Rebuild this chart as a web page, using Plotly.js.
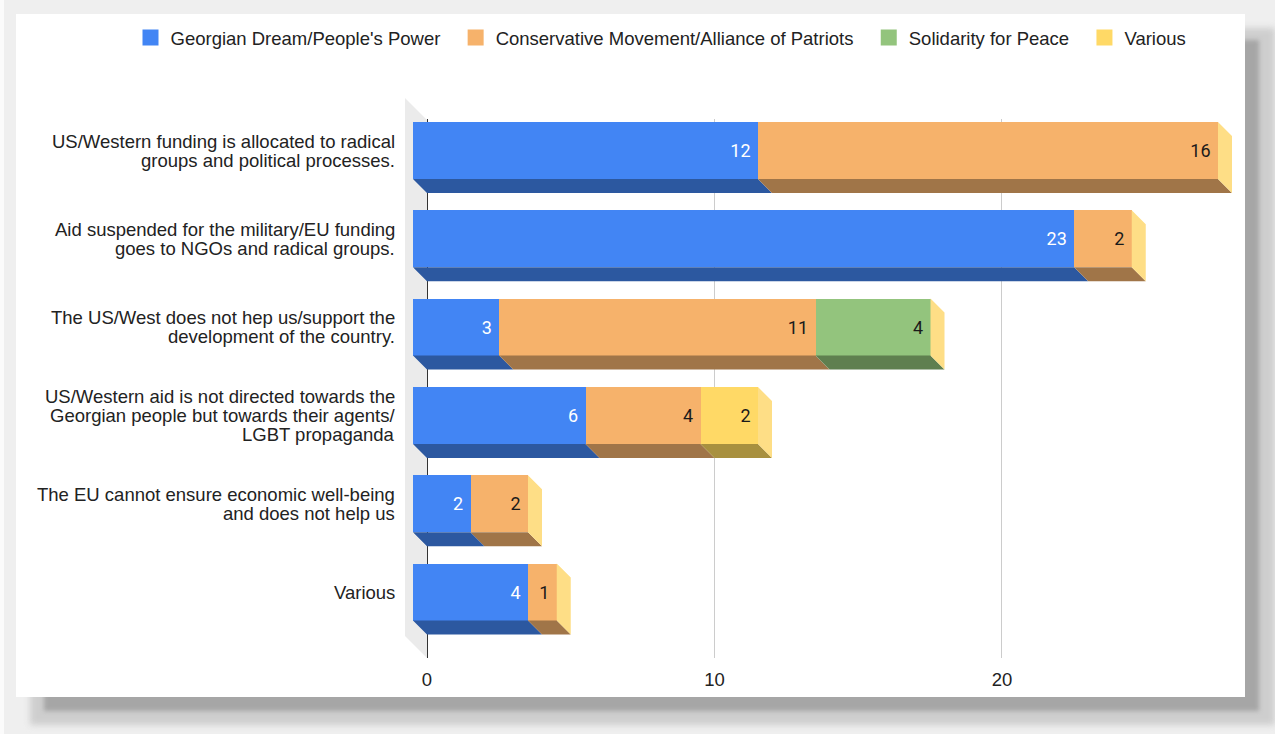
<!DOCTYPE html>
<html>
<head>
<meta charset="utf-8">
<script src="https://cdn.plot.ly/plotly-3.0.1.min.js"></script>
<style>
  html, body { margin: 0; padding: 0; background: #ffffff; overflow: hidden; }
  #wrap { position: relative; width: 1275px; height: 734px; background: #fbfbfb; }
  .sh { position: absolute; }
  #chart { position: absolute; left: 0; top: 0; width: 1275px; height: 734px; }
</style>
</head>
<body>
<div id="wrap">
  <div class="sh" style="left:4px;top:0px;width:1271px;height:734px;background:#efefef;"></div>
  <div class="sh" style="left:30px;top:28px;width:1245px;height:697px;background:#cecece;filter:blur(3px);"></div>
  <div class="sh" style="left:44px;top:40px;width:1215px;height:671px;background:#a6a6a6;filter:blur(2px);"></div>
  <div class="sh" style="left:16px;top:14px;width:1229px;height:683px;background:#ffffff;"></div>
  <div id="chart"></div>
</div>
<script>
// ---- data ----
const categories = [
  "US/Western funding is allocated to radical<br>groups and political processes.",
  "Aid suspended for the military/EU funding<br>goes to NGOs and radical groups.",
  "The US/West does not hep us/support the<br>development of the country.",
  "US/Western aid is not directed towards the<br>Georgian people but towards their agents/<br>LGBT propaganda",
  "The EU cannot ensure economic well-being<br>and does not help us",
  "Various"
];
const seriesNames = ["Georgian Dream/People's Power", "Conservative Movement/Alliance of Patriots", "Solidarity for Peace", "Various"];
const georgianDream = [12, 23, 3, 6, 2, 4];
const conservativeMovement = [16, 2, 11, 4, 2, 1];
const solidarityForPeace = [null, null, 4, null, null, null];
const various = [null, null, null, 2, null, null];
const xTickVals = [0, 10, 20];

// ---- styles ----
const frontColors = ["#4285f4", "#f6b26b", "#93c47d", "#ffd966"];
const bottomColors = ["#2c58a0", "#a07548", "#5f7f4f", "#a8903f"];
const sideColor = "#fede86";
const textColors = ["#ffffff", "#1a1a1a", "#1a1a1a", "#1a1a1a"];

const W = 1275, H = 734;
const px = v => v / W;
const py = v => 1 - v / H;

const X_MAX = 29.5;
const UNIT_PX = 28.75;
const backX0 = 427;
const frontX0 = 413;
const backX1 = backX0 + X_MAX * UNIT_PX, frontX1 = frontX0 + X_MAX * UNIT_PX;
const frontYTop = 106.35, frontYBot = 636.15;
const backYTop = 119, backYBot = 658;
const barFrac = 0.6455;
const LINE_H = 19;

const pxPerUnitY = (frontYBot - frontYTop) / categories.length;
const depthPx = 14;
const dx = depthPx / UNIT_PX;
const dy = depthPx / pxPerUnitY;
const h = barFrac / 2;

const allSeries = [georgianDream, conservativeMovement, solidarityForPeace, various];
const yIdx = categories.map((c, i) => i);

const traces = [];
// dummy trace to register back subplot
traces.push({type: 'scatter', x: [null], y: [null], xaxis: 'x', yaxis: 'y', mode: 'none', showlegend: false, hoverinfo: 'skip'});

// front faces
allSeries.forEach((vals, s) => {
  traces.push({
    type: 'bar', orientation: 'h', name: seriesNames[s], showlegend: false,
    x: vals, y: yIdx, xaxis: 'x2', yaxis: 'y2',
    marker: {color: frontColors[s], line: {width: 0}},
    text: vals.map(v => v == null ? '' : String(v) + '\u00a0'),
    textposition: 'inside', insidetextanchor: 'end', textangle: 0,
    constraintext: 'none',
    insidetextfont: {family: 'Roboto, Arial, sans-serif', size: 18, color: textColors[s]},
    hoverinfo: 'x+name'
  });
});

// bottom faces (3D depth), one polygon per segment
const cum = categories.map(() => 0);
allSeries.forEach((vals, s) => {
  const xs = [], ys = [];
  vals.forEach((v, i) => {
    if (v == null) return;
    const a = cum[i], b = cum[i] + v;
    const yb = i + h;
    xs.push(a, b, b + dx, a + dx, a, null);
    ys.push(yb, yb, yb + dy, yb + dy, yb, null);
    cum[i] = b;
  });
  traces.push({
    type: 'scatter', x: xs, y: ys, xaxis: 'x2', yaxis: 'y2',
    mode: 'lines', fill: 'toself', fillcolor: bottomColors[s],
    line: {width: 0, color: bottomColors[s]}, showlegend: false, hoverinfo: 'skip'
  });
});
// right end faces
{
  const xs = [], ys = [];
  cum.forEach((e, i) => {
    xs.push(e, e + dx, e + dx, e, e, null);
    ys.push(i - h, i - h + dy, i + h + dy, i + h, i - h, null);
  });
  traces.push({
    type: 'scatter', x: xs, y: ys, xaxis: 'x2', yaxis: 'y2',
    mode: 'lines', fill: 'toself', fillcolor: sideColor,
    line: {width: 0, color: sideColor}, showlegend: false, hoverinfo: 'skip'
  });
}

// legend entries (square swatches)
seriesNames.forEach((n, s) => {
  traces.push({
    type: 'scatter', x: [null], y: [null], xaxis: 'x2', yaxis: 'y2',
    mode: 'markers', name: n + '\u00a0\u00a0',
    marker: {symbol: 'square', size: 16, color: frontColors[s]},
    showlegend: true, hoverinfo: 'skip'
  });
});

// category labels, one annotation per line, placed on the front axis scale
const annotations = [];
categories.forEach((c, i) => {
  const lines = c.split('<br>');
  const n = lines.length;
  lines.forEach((ln, k) => {
    annotations.push({
      xref: 'paper', x: px(396), xanchor: 'right',
      yref: 'y2', y: i, yanchor: 'middle',
      yshift: -((k - (n - 1) / 2) * LINE_H),
      text: ln, showarrow: false, borderpad: 0,
      font: {size: 18.5, color: '#222222'}
    });
  });
});

const wallPath = `M ${px(405)} ${py(98)} L ${px(427)} ${py(120)} L ${px(427)} ${py(658)} L ${px(405)} ${py(636)} Z`;

const layout = {
  width: W, height: H,
  margin: {l: 0, r: 0, t: 0, b: 0, pad: 0},
  paper_bgcolor: 'rgba(0,0,0,0)', plot_bgcolor: 'rgba(0,0,0,0)',
  font: {family: 'Arial, "Liberation Sans", sans-serif', color: '#222222', size: 18.5},
  barmode: 'stack', bargap: 1 - barFrac,
  showlegend: true,
  legend: {
    orientation: 'h', x: px(666), xanchor: 'center', y: py(38), yanchor: 'middle',
    traceorder: 'normal', font: {size: 18.5, color: '#222222'}, bgcolor: 'rgba(0,0,0,0)'
  },
  xaxis: {
    domain: [px(backX0), px(backX1)], range: [0, X_MAX], anchor: 'y',
    tickvals: xTickVals, ticktext: xTickVals.map(String),
    showgrid: true, gridcolor: '#cccccc', gridwidth: 1,
    zeroline: true, zerolinecolor: '#333333', zerolinewidth: 1,
    showline: false, ticks: 'outside', ticklen: 5, tickcolor: 'rgba(0,0,0,0)',
    tickfont: {size: 18.5, color: '#222222'}, fixedrange: true
  },
  yaxis: {
    domain: [py(backYBot), py(backYTop)], range: [0, 1], anchor: 'x',
    visible: false, showgrid: false, zeroline: false, fixedrange: true
  },
  xaxis2: {
    domain: [px(frontX0), px(frontX1)], range: [0, X_MAX], anchor: 'y2',
    visible: false, showgrid: false, zeroline: false, fixedrange: true
  },
  yaxis2: {
    domain: [py(frontYBot), py(frontYTop)], range: [categories.length - 0.5, -0.5], anchor: 'x2',
    tickvals: yIdx, ticktext: categories, showticklabels: false,
    showgrid: false, zeroline: false, showline: false, ticks: '', fixedrange: true
  },
  annotations: annotations,
  shapes: [
    {type: 'path', xref: 'paper', yref: 'paper', path: wallPath, fillcolor: '#ebebeb', line: {width: 0}, layer: 'below'}
  ]
};

Plotly.newPlot('chart', traces, layout, {staticPlot: true, displayModeBar: false});
</script>
</body>
</html>
